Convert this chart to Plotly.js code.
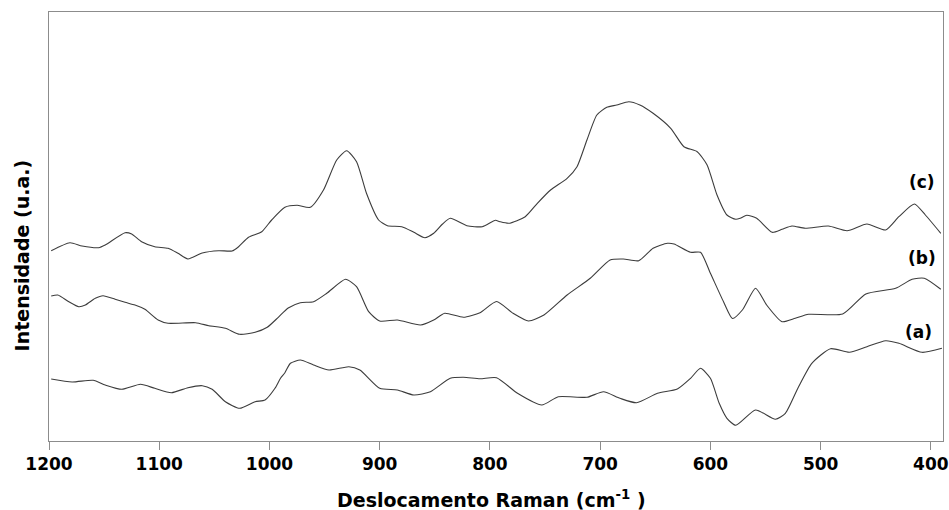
<!DOCTYPE html>
<html>
<head>
<meta charset="utf-8">
<script src="https://cdn.plot.ly/plotly-3.0.1.min.js"></script>
<style>html,body{margin:0;padding:0;background:#fff;}#chart{width:949px;height:510px;}</style>
</head>
<body>
<div id="chart"></div>
<script>
// Raman shift (cm-1) and intensity (arbitrary units) for spectra (a), (b), (c)
const waveA = [1198,1179,1160,1149,1134,1117,1104,1089,1074,1061,1052,1040,1027,1013,1004,995,990,986,981,972,960,946,928,918,900,884,869,854,836,824,809,794,775,753,738,712,697,682,667,648,630,618,609,600,592,585,577,559,541,532,520,508,491,474,458,441,429,408,390];
const intA  = [62,59,60.7,56,51.7,56.7,52.7,48.3,53.3,55.3,51.7,39.3,32.7,39.3,41,52.7,62.7,68.3,77.7,81,76,71,74.3,71,52.7,51,46,49.3,62.7,63.7,62.3,63.3,47.7,36,44.3,43.7,49.3,42.7,38.3,47.7,52,62.7,72.7,62.7,37.7,22.7,15.7,31,21.7,27.7,54.3,77.7,92.3,88.7,94.3,100.3,97.7,88.7,92.7];

const waveB = [1198,1192,1182,1173,1167,1158,1151,1140,1131,1122,1113,1101,1092,1067,1055,1040,1027,1013,1002,992,983,972,960,948,931,921,910,900,884,863,851,841,824,809,794,779,765,751,730,709,691,679,665,652,639,633,618,609,600,588,580,571,559,549,535,523,511,480,459,432,417,406,391];
const intB  = [145,146,139.3,134.3,136,142.7,145.3,141.7,138.7,136,131.7,121,117.7,118.3,115.3,112.7,106.7,108.7,113.7,123.7,133,138.3,139.3,147.7,161.7,154.3,129.3,120,121,116,121,127.7,123.7,128.3,139.5,127.7,120,126,146,162.7,181,182,180.3,192.7,197.7,197,188.7,188.7,167.7,139,122.5,131,152.7,136,119.3,122.7,126.7,127,147,152.7,161.7,162.7,151.7];

const waveC = [1198,1181,1170,1155,1149,1131,1125,1116,1104,1092,1083,1074,1061,1046,1034,1028,1019,1007,998,986,975,963,951,939,930,921,912,901,893,880,869,859,851,843,836,821,807,795,791,783,768,757,745,730,721,712,703,694,685,674,664,652,636,624,612,603,594,585,577,573,567,558,544,535,526,514,493,476,458,441,429,415,405,391];
const intC  = [190.3,198.3,195,193.3,196,208.3,207,199.3,194.3,192.7,187.7,182,188,190.3,190,194.3,203.7,209.3,221,233.7,235.7,233.7,251,281,290.3,279.3,247.7,221,215.3,214.3,208.7,203.3,207.7,217,222.7,215.3,214.3,220.7,219.3,217.7,224.3,237.7,251,262.7,274.3,301,326,333.7,336,339.3,336,327.7,312.7,294.3,289.3,276,246,226,221.7,222.7,225.7,222.7,208.7,211.7,215,212.7,215,210.3,217,211,224.3,237,226,207.7];

const tickValues = [1200,1100,1000,900,800,700,600,500,400];
const labelText = ['(a)','(b)','(c)'];
const labelX = [411, 408, 408];
const labelY = [109.3, 182.7, 259.3];
const xTitle = 'Deslocamento Raman (cm<sup>-1</sup> )';
const yTitle = 'Intensidade (u.a.)';

const lineStyle = {color:'#3c3c3c', width:1.1, shape:'spline', smoothing:0.6};
const traces = [
  {x:waveA, y:intA, mode:'lines', line:lineStyle, name:'(a)'},
  {x:waveB, y:intB, mode:'lines', line:lineStyle, name:'(b)'},
  {x:waveC, y:intC, mode:'lines', line:lineStyle, name:'(c)'}
];

const fontFam = '"DejaVu Sans", sans-serif';
const annotations = labelText.map((t,i)=>({
  x:labelX[i], y:labelY[i], xref:'x', yref:'y', text:t, showarrow:false,
  font:{family:fontFam, size:17, color:'#000', weight:'bold'}
}));
annotations.push({
  xref:'paper', yref:'paper', x:0.4955, y:-0.135, xanchor:'center', yanchor:'middle',
  text:xTitle, showarrow:false,
  font:{family:fontFam, size:19, color:'#000', weight:'bold'}
});
annotations.push({
  xref:'paper', yref:'paper', x:-0.0305, y:0.432, xanchor:'center', yanchor:'middle',
  text:yTitle, textangle:-90, showarrow:false,
  font:{family:fontFam, size:19, color:'#000', weight:'bold'}
});

const layout = {
  width:949, height:510,
  margin:{l:49, r:6, t:12, b:69},
  paper_bgcolor:'#fff', plot_bgcolor:'#fff',
  showlegend:false,
  font:{family:fontFam, color:'#000'},
  xaxis:{
    range:[1200, 389], tickvals:tickValues,
    ticks:'outside', ticklen:8, tickcolor:'#8c8c8c', tickwidth:1,
    showline:true, linecolor:'#8c8c8c', linewidth:1, mirror:true,
    showgrid:false, zeroline:false,
    tickfont:{family:fontFam, size:17, color:'#000', weight:'bold'}
  },
  yaxis:{
    range:[0, 429], showticklabels:false, ticks:'',
    showline:true, linecolor:'#8c8c8c', linewidth:1, mirror:true,
    showgrid:false, zeroline:false
  },
  annotations:annotations
};

Plotly.newPlot('chart', traces, layout, {staticPlot:true, displayModeBar:false});
</script>
</body>
</html>
